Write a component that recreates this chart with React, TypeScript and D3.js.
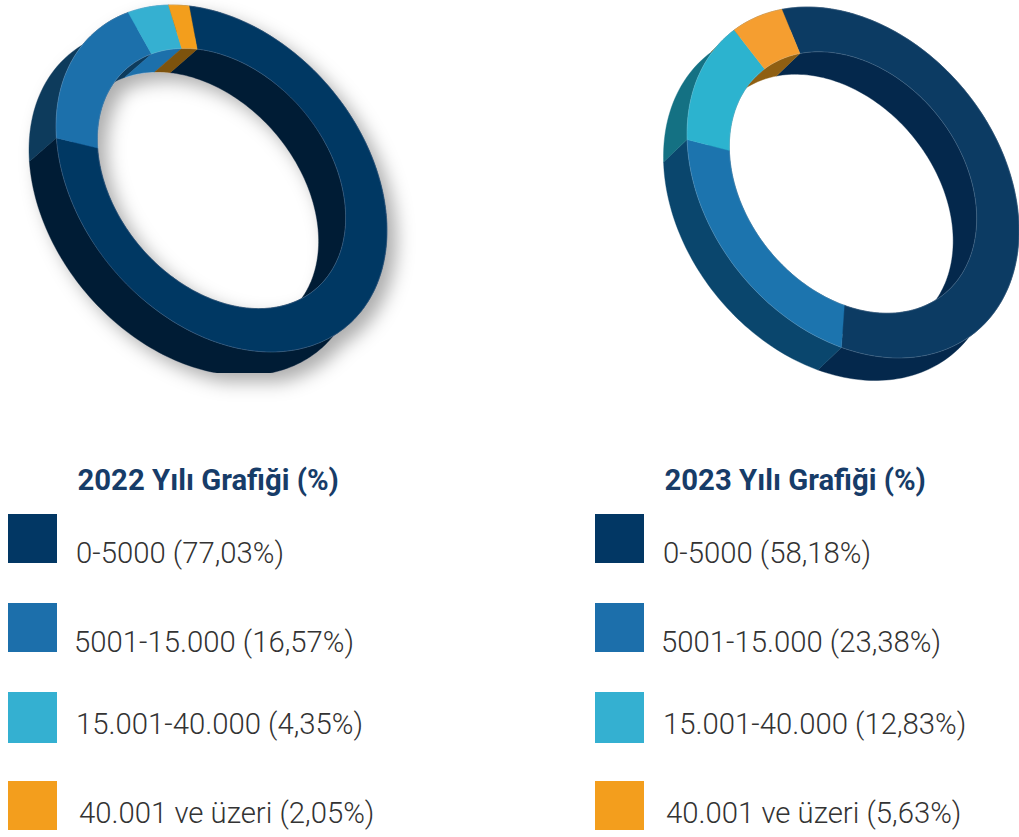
import React from "react";
import * as d3 from "d3";

const bands2022 = ["0-5000", "5001-15.000", "15.001-40.000", "40.001 ve üzeri"];
const values2022 = [77.03, 16.57, 4.35, 2.05];
const values2023 = [58.18, 23.38, 12.83, 5.63];
const labels2022 = ["0-5000 (77,03%)", "5001-15.000 (16,57%)", "15.001-40.000 (4,35%)", "40.001 ve üzeri (2,05%)"];
const labels2023 = ["0-5000 (58,18%)", "5001-15.000 (23,38%)", "15.001-40.000 (12,83%)", "40.001 ve üzeri (5,63%)"];
const swatchColors = ["#023764", "#1c6fab", "#34b0d1", "#f39e1d"];
const top2022 = ["#023764", "#1c6fab", "#34b0d1", "#f39e1d"];
const wall2022 = ["#011d34", "#0f3a5b", "#1c6fab", "#7d520e"];
const top2023 = ["#0c3b63", "#1c74ae", "#2cb3cf", "#f59e30"];
const wall2023 = ["#04284c", "#0a466d", "#147183", "#8f5f12"];

type Geo = {
  cx: number; cy: number; A: number; B: number; delta: number;
  start: number; dx: number; dy: number; inner: number; clipBottom: number;
};

function Ring({ values, tops, walls, geo, id, shadow }: {
  values: number[]; tops: string[]; walls: string[]; geo: Geo; id: string; shadow: boolean;
}) {
  const rad = Math.PI / 180;
  const sd = Math.sin(geo.delta * rad);
  const cd = Math.cos(geo.delta * rad);
  const project = (a: number, r: number, depth: number): [number, number] => {
    const ux = r * Math.sin(a);
    const uy = -r * Math.cos(a);
    return [
      geo.cx + geo.A * ux + depth * geo.dx,
      geo.cy + geo.B * (sd * ux + cd * uy) + depth * geo.dy,
    ];
  };
  const pie = d3.pie<number>().sort(null).value((d) => d)
    .startAngle(geo.start * rad).endAngle((geo.start + 360) * rad);
  const arcs = pie(values);
  const line = d3.line();
  const samples = (a0: number, a1: number) => {
    const n = Math.max(4, Math.ceil(((a1 - a0) / rad) / 1.5));
    return d3.range(n + 1).map((i) => a0 + ((a1 - a0) * i) / n);
  };
  const wallPath = (a0: number, a1: number, r: number) => {
    const s = samples(a0, a1);
    const front = s.map((a) => project(a, r, 0));
    const back = s.slice().reverse().map((a) => project(a, r, 1));
    return line([...front, ...back]) + "Z";
  };
  const topPath = (a0: number, a1: number) => {
    const s = samples(a0, a1);
    const outer = s.map((a) => project(a, 1, 0));
    const inner = s.slice().reverse().map((a) => project(a, geo.inner, 0));
    return line([...outer, ...inner]) + "Z";
  };
  const edgePath = (a0: number, a1: number, r: number) =>
    line(samples(a0, a1).map((a) => project(a, r, 0))) as string;
  return (
    <g filter={shadow ? `url(#${id}-shadow)` : undefined}>
      <defs>
        <clipPath id={`${id}-clip`}>
          <rect x={0} y={0} width={1019} height={geo.clipBottom} />
        </clipPath>
        <filter id={`${id}-shadow`} x="-20%" y="-20%" width="140%" height="140%">
          <feDropShadow dx={9} dy={9} stdDeviation={9} floodColor="#000" floodOpacity={0.32} />
        </filter>
      </defs>
      <g clipPath={`url(#${id}-clip)`}>
        {arcs.map((d, i) => (
          <path key={`o${i}`} d={wallPath(d.startAngle, d.endAngle, 1)} fill={walls[i]} stroke={walls[i]} strokeWidth={0.4} />
        ))}
        {arcs.map((d, i) => (
          <path key={`n${i}`} d={wallPath(d.startAngle, d.endAngle, geo.inner)} fill={walls[i]} stroke={walls[i]} strokeWidth={0.4} />
        ))}
        {arcs.map((d, i) => (
          <path key={`t${i}`} d={topPath(d.startAngle, d.endAngle)} fill={tops[i]} stroke={tops[i]} strokeWidth={0.4} />
        ))}
        {arcs.map((d, i) => (
          <path key={`e${i}`} d={edgePath(d.startAngle, d.endAngle, 1)} fill="none" stroke="#b8c8d6" strokeOpacity={0.4} strokeWidth={0.5} />
        ))}
        {arcs.map((d, i) => (
          <path key={`f${i}`} d={edgePath(d.startAngle, d.endAngle, geo.inner)} fill="none" stroke="#b8c8d6" strokeOpacity={0.4} strokeWidth={0.5} />
        ))}
      </g>
    </g>
  );
}

function Legend({ title, labels, titleX, swatchX, textX }: {
  title: string; labels: string[]; titleX: number; swatchX: number; textX: number[];
}) {
  const swatchY = [514, 603, 692, 781];
  const swatchH = [49, 49, 51, 49];
  const baseY = [562.6, 651.6, 733.6, 822.6];
  return (
    <g fontFamily="Roboto">
      <text x={titleX} y={490} fontSize={29.3} fontWeight={700} fill="#173c68">{title}</text>
      {labels.map((l, i) => (
        <g key={bands2022[i]}>
          <rect x={swatchX} y={swatchY[i]} width={49} height={swatchH[i]} fill={swatchColors[i]} />
          <text x={textX[i]} y={baseY[i]} fontSize={29.3} fontWeight={300} fill="#333">{l}</text>
        </g>
      ))}
    </g>
  );
}

export default function App() {
  const geoA: Geo = { cx: 221.5, cy: 178.5, A: 165.5, B: 173.5, delta: 17.5, start: -11.3, dx: -27, dy: 23.5, inner: 0.75, clipBottom: 373 };
  const geoB: Geo = { cx: 853, cy: 182.5, A: 166, B: 175.5, delta: 16, start: -25.4, dx: -23.5, dy: 22.5, inner: 0.745, clipBottom: 837 };
  return (
    <svg width={1019} height={837} style={{ position: "absolute", left: 0, top: 0 }}>
      <rect width={1019} height={837} fill="#fff" />
      <Ring id="r22" values={values2022} tops={top2022} walls={wall2022} geo={geoA} shadow />
      <Ring id="r23" values={values2023} tops={top2023} walls={wall2023} geo={geoB} shadow={false} />
      <Legend title="2022 Yılı Grafiği (%)" labels={labels2022} titleX={77.5} swatchX={8} textX={[76, 74, 76, 79]} />
      <Legend title="2023 Yılı Grafiği (%)" labels={labels2023} titleX={664.5} swatchX={595} textX={[663, 661, 663, 666]} />
    </svg>
  );
}
